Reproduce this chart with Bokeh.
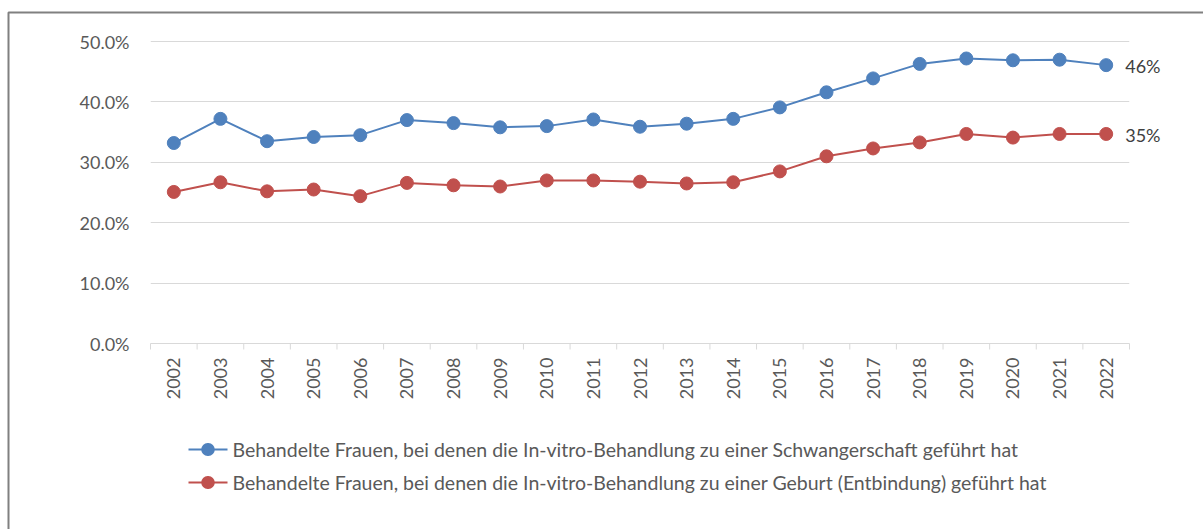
from bokeh.plotting import figure
from bokeh.models import Range1d, FixedTicker, NumeralTickFormatter
from bokeh.core.properties import value
from bokeh.embed import file_html
from bokeh.resources import INLINE

# ---------------- data ----------------
years = ["2002", "2003", "2004", "2005", "2006", "2007", "2008", "2009", "2010", "2011",
         "2012", "2013", "2014", "2015", "2016", "2017", "2018", "2019", "2020", "2021", "2022"]
pregnancy_pct = [33.2, 37.2, 33.5, 34.2, 34.5, 37.0, 36.5, 35.8, 36.0, 37.1,
                 35.9, 36.4, 37.2, 39.1, 41.6, 43.9, 46.3, 47.2, 46.9, 47.0, 46.1]
birth_pct = [25.1, 26.7, 25.2, 25.5, 24.4, 26.6, 26.2, 26.0, 27.0, 27.0,
             26.8, 26.5, 26.7, 28.5, 31.0, 32.3, 33.3, 34.7, 34.1, 34.7, 34.7]
series_labels = [
    "Behandelte Frauen, bei denen die In-vitro-Behandlung zu einer Schwangerschaft geführt hat",
    "Behandelte Frauen, bei denen die In-vitro-Behandlung zu einer Geburt (Entbindung) geführt hat",
]
y_ticks = [0.0, 0.1, 0.2, 0.3, 0.4, 0.5]

# ---------------- layout ----------------
FONT = "Lato"
W, H = 1203, 529
BL, BR, BT, BB = 150, 74, 29, 186
frame_w = W - BL - BR
frame_h = H - BT - BB
y_max = 0.52
n = len(years)
px_x = frame_w / n
px_y = frame_h / y_max

def xd(fx):
    return -0.5 + (fx - BL) / px_x

def yd(fy):
    return (H - BB - fy) / px_y

BLUE = "#4f81bd"
RED = "#c0504d"
GRID = "#d9d9d9"
TXT = "#595959"

p = figure(width=W, height=H, x_range=Range1d(-0.5, n - 0.5), y_range=Range1d(0, y_max),
           output_backend="svg", toolbar_location=None,
           min_border_left=BL, min_border_right=BR, min_border_top=BT, min_border_bottom=BB)
p.outline_line_color = None
p.background_fill_color = "white"
p.border_fill_color = "white"

idx = list(range(n))
preg = [v / 100 for v in pregnancy_pct]
birth = [v / 100 for v in birth_pct]

# y axis
p.yaxis.ticker = FixedTicker(ticks=y_ticks)
p.yaxis.formatter = NumeralTickFormatter(format="0.0%")
p.yaxis.axis_line_color = None
p.yaxis.major_tick_line_color = None
p.yaxis.minor_tick_line_color = None
p.yaxis.major_tick_in = 0
p.yaxis.major_tick_out = 0
p.yaxis.major_label_standoff = 21
p.yaxis.major_label_text_font = FONT
p.yaxis.major_label_text_font_size = "18px"
p.yaxis.major_label_text_color = TXT

# x axis
p.xaxis.ticker = FixedTicker(ticks=idx)
p.xaxis.major_label_overrides = {i: y for i, y in enumerate(years)}
p.xaxis.major_label_orientation = 3.14159265 / 2
p.xaxis.axis_line_color = GRID
p.xaxis.axis_line_width = 1
p.xaxis.major_tick_line_color = None
p.xaxis.minor_tick_line_color = None
p.xaxis.major_tick_in = 0
p.xaxis.major_tick_out = 0
p.xaxis.major_label_standoff = 14
p.xaxis.major_label_text_font = FONT
p.xaxis.major_label_text_font_size = "18px"
p.xaxis.major_label_text_color = TXT

p.xgrid.grid_line_color = None
p.ygrid.ticker = FixedTicker(ticks=y_ticks)
p.ygrid.grid_line_color = GRID
p.ygrid.grid_line_width = 1

# category boundary tick marks (below the axis)
bounds = [i - 0.5 for i in range(n + 1)]
tick_len = 6 / px_y
p.segment(x0=bounds, y0=[0] * len(bounds), x1=bounds, y1=[-tick_len] * len(bounds),
          line_color=GRID, line_width=1, level="overlay")

# series
series = [(preg, BLUE, series_labels[0]), (birth, RED, series_labels[1])]
for vals, col, lab in series:
    p.line(idx, vals, line_color=col, line_width=2)
    p.scatter(idx, vals, size=13, fill_color=col, line_color=col)

# end labels
p.text(x=[idx[-1], idx[-1]], y=[preg[-1], birth[-1]],
       text=[f"{round(preg[-1] * 100)}%", f"{round(birth[-1] * 100)}%"],
       x_offset=19, y_offset=1, text_font=value(FONT), text_font_size="18px",
       text_color="#404040", text_baseline="middle", text_align="left", level="overlay")

# legend (drawn below the axis, outside the plot frame)
LEG_X0, LEG_X1, LEG_TX = 188, 227, 232
LEG_ROWS = [449, 482]
for (vals, col, lab), ry in zip(series, LEG_ROWS):
    p.line(x=[xd(LEG_X0), xd(LEG_X1)], y=[yd(ry), yd(ry)], line_color=col, line_width=2,
           level="overlay")
    cx = (LEG_X0 + LEG_X1) / 2
    # legend marker: a very short round-capped stroke (renders as a dot)
    p.line(x=[xd(cx - 0.3), xd(cx + 0.3)], y=[yd(ry), yd(ry)], line_color=col,
           line_width=13, line_cap="round", level="overlay")
    p.text(x=[xd(LEG_TX)], y=[yd(ry)], text=[lab], text_font=value(FONT),
           text_font_size="19.5px", text_color=TXT, text_baseline="middle",
           text_align="left", level="overlay")

# chart-area border (top and left)
p.line(x=[xd(8), xd(8), xd(W + 5)], y=[yd(H + 5), yd(12), yd(12)],
       line_color="#808080", line_width=2, level="overlay")

open("out.html", "w").write(file_html(p, INLINE))
